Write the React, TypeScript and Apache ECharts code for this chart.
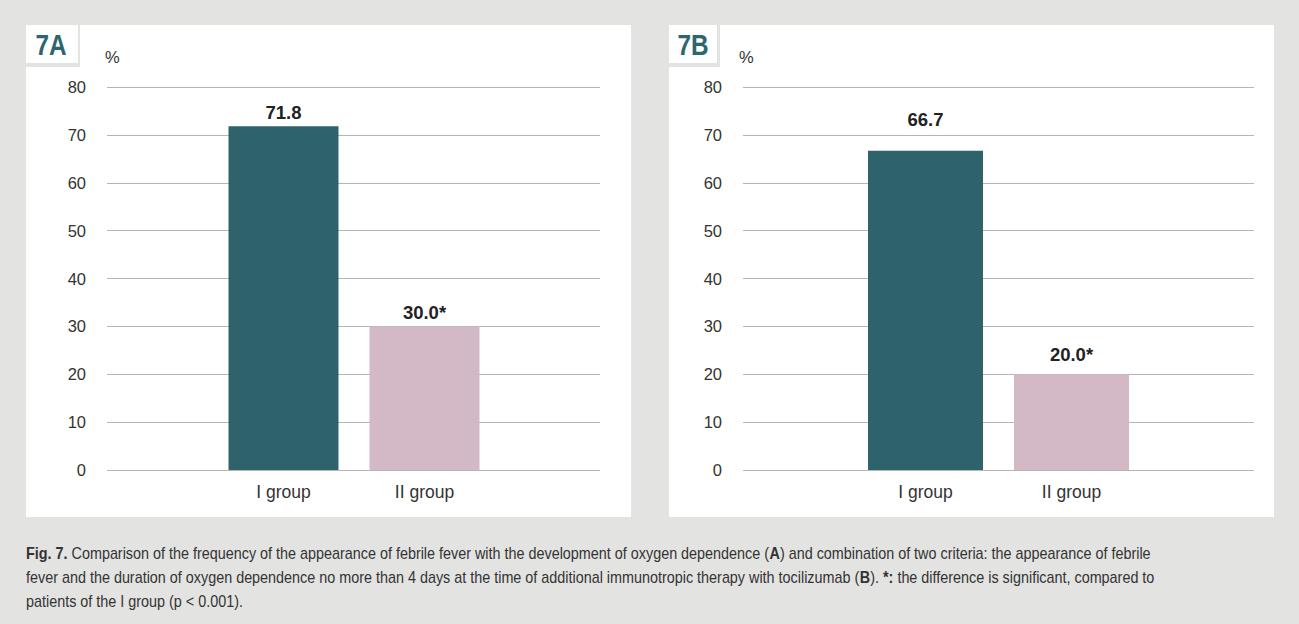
import React, { useEffect, useRef } from "react";
import * as echarts from "echarts";

const categories = ["I group", "II group"];
const valuesA = [71.8, 30.0];
const valuesB = [66.7, 20.0];
const labelsA = ["71.8", "30.0*"];
const labelsB = ["66.7", "20.0*"];
const barColors = ["#2e636b", "#d3b9c5"];
const labelDistA = [5, 5];
const labelDistB = [22, 11];
const yMin = 0;
const yMax = 80;
const yInterval = 10;

const FONT = "'Liberation Sans', Arial, sans-serif";
const TEAL = "#2e6670";
const GRAY = "#e3e3e2";

function barItems(vals: number[], labels: string[], dists: number[]) {
  return vals.map((v, i) => ({
    value: v,
    itemStyle: { color: barColors[i] },
    label: { formatter: labels[i], distance: dists[i] },
  }));
}

const bgYAxis = (gridIndex: number) => ({
  type: "value",
  gridIndex,
  min: yMin,
  max: yMax,
  interval: yInterval,
  axisLine: { show: false },
  axisTick: { show: false },
  axisLabel: { margin: 21, fontSize: 16.5, color: "#333", fontFamily: FONT },
  splitLine: { lineStyle: { color: "#b5b5b5", width: 1.2 } },
});

const barYAxis = (gridIndex: number) => ({
  type: "value",
  gridIndex,
  min: yMin,
  max: yMax,
  interval: yInterval,
  show: false,
  splitLine: { show: false },
});

const bgXAxis = (gridIndex: number) => ({
  type: "category",
  gridIndex,
  data: categories,
  show: false,
});

const barXAxis = (gridIndex: number) => ({
  type: "category",
  gridIndex,
  data: categories,
  axisLine: { show: false },
  axisTick: { show: false },
  axisLabel: { margin: 13, fontSize: 17.5, color: "#333", fontFamily: FONT },
});

const barLabel = {
  show: true,
  position: "top",
  fontSize: 18.5,
  lineHeight: 18,
  fontWeight: "bold",
  color: "#222",
  fontFamily: FONT,
};

export default function App() {
  const ref = useRef<HTMLDivElement>(null);
  useEffect(() => {
    if (!ref.current) return;
    const chart = echarts.init(ref.current, null, { renderer: "svg" });
    const capRich = {
      b: { fontWeight: "bold", color: TEAL, fontSize: 17, fontFamily: FONT },
    };
    const capStyle = (text: string) => ({
      text,
      fill: "#333",
      fontSize: 17,
      fontFamily: FONT,
      rich: capRich,
      verticalAlign: "middle",
    });
    const capScale = 0.846;
    const option: any = {
      animation: false,
      backgroundColor: GRAY,
      grid: [
        { left: 107, top: 87, width: 493, height: 383 },
        { left: 213, top: 87, width: 282, height: 383 },
        { left: 743, top: 87, width: 511, height: 383 },
        { left: 852.5, top: 87, width: 292, height: 383 },
      ],
      xAxis: [bgXAxis(0), barXAxis(1), bgXAxis(2), barXAxis(3)],
      yAxis: [bgYAxis(0), barYAxis(1), bgYAxis(2), barYAxis(3)],
      series: [
        {
          type: "bar",
          xAxisIndex: 1,
          yAxisIndex: 1,
          barWidth: 110,
          label: barLabel,
          data: barItems(valuesA, labelsA, labelDistA),
        },
        {
          type: "bar",
          xAxisIndex: 3,
          yAxisIndex: 3,
          barWidth: 115,
          label: barLabel,
          data: barItems(valuesB, labelsB, labelDistB),
        },
      ],
      graphic: [
        // panels
        { type: "rect", z: -100, silent: true, shape: { x: 26, y: 25, width: 605, height: 492 }, style: { fill: "#fff" } },
        { type: "rect", z: -99, silent: true, shape: { x: 78, y: 25, width: 2, height: 42 }, style: { fill: GRAY } },
        { type: "rect", z: -99, silent: true, shape: { x: 26, y: 63, width: 54, height: 4 }, style: { fill: GRAY } },
        { type: "rect", z: -100, silent: true, shape: { x: 669, y: 25, width: 605, height: 492 }, style: { fill: "#fff" } },
        { type: "rect", z: -99, silent: true, shape: { x: 717, y: 25, width: 3, height: 42 }, style: { fill: GRAY } },
        { type: "rect", z: -99, silent: true, shape: { x: 669, y: 63, width: 51, height: 4 }, style: { fill: GRAY } },
        // panel labels
        { type: "text", x: 51, y: 45, scaleX: 0.84, style: { text: "7A", fill: TEAL, fontSize: 29, fontWeight: "bold", fontFamily: FONT, align: "center", verticalAlign: "middle" } },
        { type: "text", x: 693, y: 45, scaleX: 0.84, style: { text: "7B", fill: TEAL, fontSize: 29, fontWeight: "bold", fontFamily: FONT, align: "center", verticalAlign: "middle" } },
        // % units
        { type: "text", x: 105, y: 57, style: { text: "%", fill: "#333", fontSize: 16.5, fontFamily: FONT, verticalAlign: "middle" } },
        { type: "text", x: 739, y: 57, style: { text: "%", fill: "#333", fontSize: 16.5, fontFamily: FONT, verticalAlign: "middle" } },
        // caption
        {
          type: "text",
          x: 26,
          y: 553,
          scaleX: capScale,
          style: capStyle(
            "{b|Fig. 7.} Comparison of the frequency of the appearance of febrile fever with the development of oxygen dependence ({b|A}) and combination of two criteria: the appearance of febrile"
          ),
        },
        {
          type: "text",
          x: 26,
          y: 577,
          scaleX: capScale,
          style: capStyle(
            "fever and the duration of oxygen dependence no more than 4 days at the time of additional immunotropic therapy with tocilizumab ({b|B}). {b|*:} the difference is significant, compared to"
          ),
        },
        {
          type: "text",
          x: 26,
          y: 601,
          scaleX: capScale,
          style: capStyle("patients of the I group (p < 0.001)."),
        },
      ],
    };
    chart.setOption(option);
    return () => chart.dispose();
  }, []);
  return (
    <div
      ref={ref}
      style={{ position: "fixed", left: 0, top: 0, width: 1299, height: 624 }}
    />
  );
}
